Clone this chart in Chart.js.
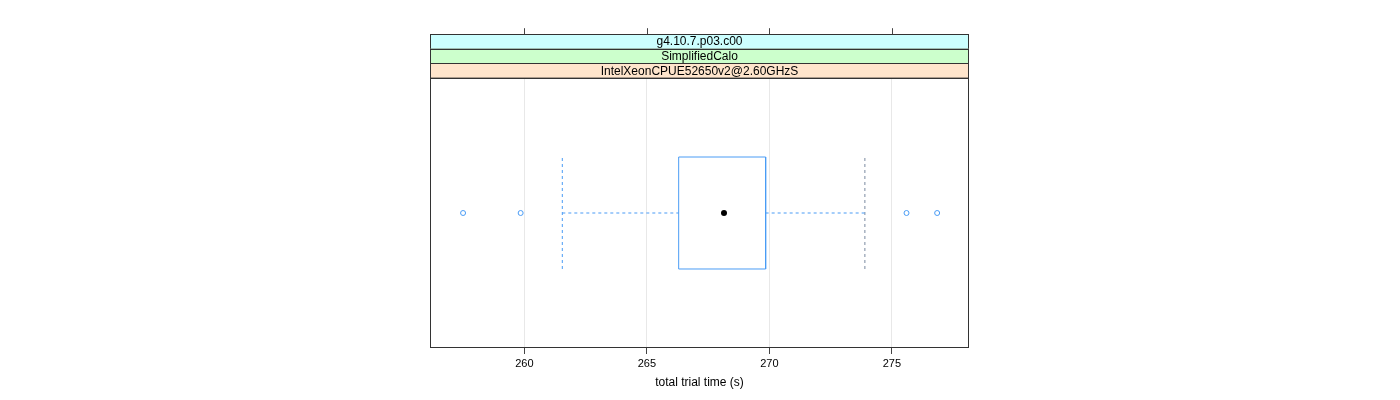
<!DOCTYPE html>
<html>
<head>
<meta charset="utf-8">
<script src="https://cdn.jsdelivr.net/npm/chart.js@4"></script>
<style>
  body { margin: 0; background: #fff; }
</style>
</head>
<body>
<canvas id="timeChart" width="1400" height="400"></canvas>
<script>
// strip labels, top to bottom
const stripLabels = ['g4.10.7.p03.c00', 'SimplifiedCalo', 'IntelXeonCPUE52650v2@2.60GHzS'];
const stripColors = ['#ccffff', '#ccffcc', '#ffe5cc'];

// box plot stats (seconds)
const whiskerLow = 261.55;
const q1 = 266.3;
const median = 268.15;
const q3 = 269.85;
const whiskerHigh = 273.9;
const outliers = [257.5, 259.85, 275.6, 276.85];

const xTicks = [260, 265, 270, 275];
const xMin = 256.15;
const xMax = 278.15;

const boxLo = 0.2926, boxHi = 0.7074, boxMid = 0.5;
const blue = '#4a9cf5';

// strips + top ticks + panel border
const latticePanel = {
    id: 'latticePanel',
    afterDraw(chart) {
        const ctx = chart.ctx;
        const a = chart.chartArea;
        const xs = chart.scales.x;
        const h = 14.6;
        ctx.save();
        ctx.font = '12px "Liberation Sans", Arial, sans-serif';
        ctx.textAlign = 'center';
        ctx.textBaseline = 'middle';
        for (let i = 0; i < stripLabels.length; i++) {
            const y0 = a.top - h * (stripLabels.length - i);
            ctx.fillStyle = stripColors[i];
            ctx.fillRect(a.left, y0, a.right - a.left, h);
            ctx.strokeStyle = '#333';
            ctx.lineWidth = 1;
            ctx.strokeRect(a.left + 0.5, Math.round(y0) + 0.5, a.right - a.left - 1, h);
            ctx.fillStyle = '#000';
            ctx.fillText(stripLabels[i], (a.left + a.right) / 2, y0 + h / 2 + 0.5);
        }
        // ticks above the strips
        const topY = a.top - h * stripLabels.length;
        ctx.strokeStyle = '#444';
        xTicks.forEach(v => {
            const px = Math.round(xs.getPixelForValue(v)) + 0.5;
            ctx.beginPath();
            ctx.moveTo(px, topY);
            ctx.lineTo(px, topY - 6);
            ctx.stroke();
        });
        // panel border
        ctx.strokeStyle = '#333';
        ctx.strokeRect(a.left + 0.5, a.top + 0.5, a.right - a.left - 1, a.bottom - a.top - 1);
        ctx.restore();
    }
};

const ctx = document.getElementById('timeChart').getContext('2d');
const timeChart = new Chart(ctx, {
    type: 'scatter',
    data: {
        datasets: [
            { // box
                data: [{x: q1, y: boxLo}, {x: q1, y: boxHi}, {x: q3, y: boxHi}, {x: q3, y: boxLo}, {x: q1, y: boxLo}],
                showLine: true, borderColor: blue, borderWidth: 1, pointRadius: 0, fill: false
            },
            { // lower whisker
                data: [{x: whiskerLow, y: boxMid}, {x: q1, y: boxMid}],
                showLine: true, borderColor: blue, borderWidth: 1, borderDash: [3, 3], pointRadius: 0
            },
            {
                data: [{x: whiskerLow, y: boxLo}, {x: whiskerLow, y: boxHi}],
                showLine: true, borderColor: blue, borderWidth: 1, borderDash: [3, 3], pointRadius: 0
            },
            { // upper whisker
                data: [{x: q3, y: boxMid}, {x: whiskerHigh, y: boxMid}],
                showLine: true, borderColor: blue, borderWidth: 1, borderDash: [3, 3], pointRadius: 0
            },
            {
                data: [{x: whiskerHigh, y: boxLo}, {x: whiskerHigh, y: boxHi}],
                showLine: true, borderColor: '#7a8aa0', borderWidth: 1, borderDash: [3, 3], pointRadius: 0
            },
            { // outliers
                data: outliers.map(v => ({x: v, y: boxMid})),
                pointRadius: 2.5, pointBorderWidth: 1, pointBorderColor: blue, pointBackgroundColor: '#fff'
            },
            { // median dot
                data: [{x: median, y: boxMid}],
                pointRadius: 3, pointBorderWidth: 0, pointBackgroundColor: '#000'
            }
        ]
    },
    plugins: [latticePanel],
    options: {
        responsive: false,
        animation: false,
        events: [],
        layout: { padding: { left: 430, right: 431, top: 78, bottom: 0 } },
        plugins: { legend: { display: false }, tooltip: { enabled: false } },
        scales: {
            x: {
                type: 'linear',
                min: xMin,
                max: xMax,
                afterBuildTicks: s => { s.ticks = xTicks.map(v => ({value: v})); },
                afterFit: s => { s.height = 52; },
                grid: { color: '#e8e8e8', tickColor: '#444', tickLength: 6, lineWidth: 1 },
                border: { display: false },
                ticks: {
                    color: '#000',
                    padding: 3,
                    font: { family: '"Liberation Sans", Arial, sans-serif', size: 11 }
                },
                title: {
                    display: true,
                    text: 'total trial time (s)',
                    color: '#000',
                    padding: { top: 0, bottom: 10 },
                    font: { family: '"Liberation Sans", Arial, sans-serif', size: 12 }
                }
            },
            y: {
                display: false,
                min: 0,
                max: 1
            }
        }
    }
});
</script>
</body>
</html>
